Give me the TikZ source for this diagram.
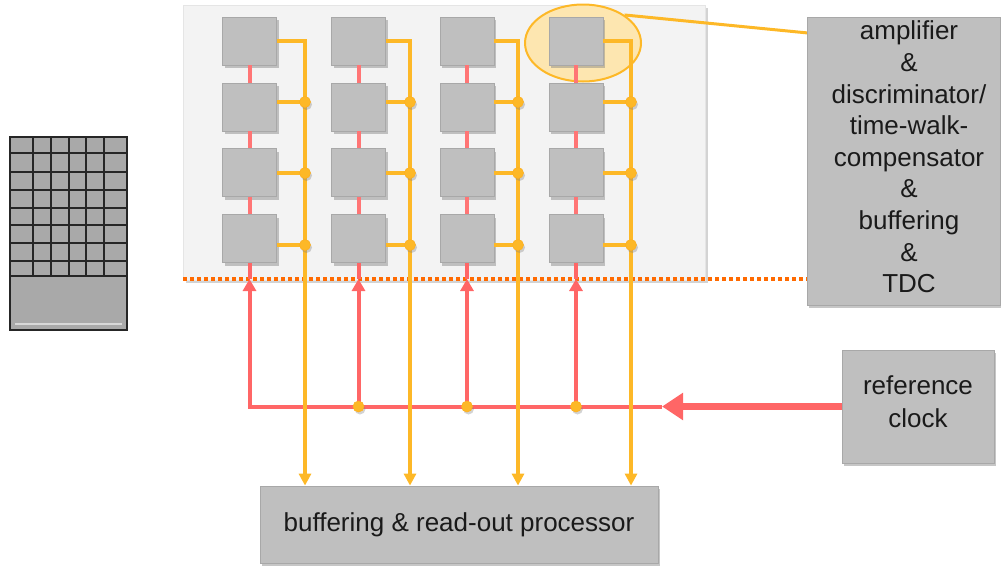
\documentclass[tikz,border=0pt]{standalone}
\usepackage{fontspec}
\setmainfont{Liberation Sans}
\usetikzlibrary{arrows.meta,shapes.geometric,shadows}
\definecolor{ylw}{HTML}{FDB827}
\definecolor{rd}{HTML}{FF6666}
\definecolor{org}{HTML}{FF6A00}
\definecolor{bx}{HTML}{BFBFBF}
\definecolor{panelc}{HTML}{F3F3F3}
\definecolor{ellc}{HTML}{FDE6B0}
\definecolor{chipc}{HTML}{A9A9A9}
\definecolor{chipl}{HTML}{262626}
\definecolor{txt}{HTML}{1A1A1A}
\tikzset{
  shad/.style={drop shadow={shadow xshift=2pt,shadow yshift=-3pt,opacity=0.45}},
  cell/.style={rectangle, fill=bx, draw=bx!88!black, line width=0.8pt, minimum width=54pt, minimum height=48pt, inner sep=0pt, shad},
  bigbox/.style={rectangle, fill=bx, draw=bx!88!black, line width=0.8pt, inner sep=0pt, shad, font=\fontsize{26}{32}\selectfont, text=txt, align=center},
  boxtext/.style={inner sep=0pt, text=txt, align=center},
  ybus/.style={draw=ylw, line width=3.5pt},
  rline/.style={draw=rd, line width=4pt},
  ytip/.style={-{Triangle[width=12pt,length=12pt]}},
  rtip/.style={-{Triangle[width=13pt,length=12pt]}},
  jdot/.style={circle, fill=ylw, draw=ylw!85!orange, line width=0.6pt, minimum size=11pt, inner sep=0pt, drop shadow={shadow xshift=1.5pt,shadow yshift=-2.5pt,opacity=0.35}}
}
\begin{document}
\begin{tikzpicture}[x=1pt,y=-1pt]
\useasboundingbox (0,0) rectangle (1001,568);
% left chip
\draw[fill=chipc, draw=chipl, line width=2pt] (10,137) rectangle (127,330);
\foreach \x in {32.7,51,68.7,86,104} \draw[chipl, line width=1.6pt] (\x,137) -- (\x,276);
\foreach \y in {153,172,190,208,225,243,261,276} \draw[chipl, line width=1.6pt] (10,\y) -- (127,\y);
\draw[white!55!chipc, line width=2pt] (15,324) -- (122,324);
% panel
\node[rectangle, fill=panelc, draw=black!10, line width=0.6pt, minimum width=522pt, minimum height=275pt, inner sep=0pt,
  drop shadow={shadow xshift=3pt,shadow yshift=-3pt,opacity=0.35}] (panel) at (444,142.5) {};
\coordinate (dl) at (183,279);
\coordinate (dr) at (807,279);
\draw[org, line width=3.5pt, dash pattern=on 3.5pt off 3.5pt] (dl) -- (dr);
% highlight ellipse
\node[ellipse, fill=ellc, draw=ylw, line width=2pt, minimum width=116pt, minimum height=77pt, inner sep=0pt] (ell) at (583,43) {};
\coordinate (lk) at (808,33);
\draw[ylw, line width=3pt] (ell.34) -- (lk);
% boxes
\node[bigbox, minimum width=193pt, minimum height=288pt] (amp) at (903.5,161) {};
\node[boxtext, font=\fontsize{26}{31.6}\selectfont] (ampt) at (909,157) {amplifier\\\&\\discriminator/\\time-walk-\\compensator\\\&\\buffering\\\&\\TDC};
\node[bigbox, minimum width=152pt, minimum height=113pt] (clk) at (918,406.5) {};
\node[boxtext, font=\fontsize{26}{33}\selectfont] (clkt) at (918,401.5) {reference\\clock};
\node[bigbox, minimum width=398pt, minimum height=77pt] (proc) at (459,524.5) {buffering \& read-out processor};
% cells
\foreach \c/\x in {1/249.5,2/358.5,3/467,4/576}{
  \foreach \r/\y in {1/41,2/107,3/172.5,4/238.5}{
    \node[cell] (b\r\c) at (\x,\y) {};
  }
}
% red clock lines
\foreach \c in {1,2,3,4}{
  \draw[rline, draw=rd!90!white] (b1\c.south) -- (b2\c.north);
  \draw[rline, draw=rd!90!white] (b2\c.south) -- (b3\c.north);
  \draw[rline, draw=rd!90!white] (b3\c.south) -- (b4\c.north);
  \coordinate (a\c) at (b4\c.south |- dl);
  \coordinate (c\c) at (b4\c.south |- clk.west);
  \draw[rline] (b4\c.south) -- (a\c);
}
\coordinate (h) at (662,406.5);
\draw[rline, rtip] (h) -| (a1);
\foreach \c in {2,3,4}{
  \draw[rline, rtip] (c\c) -- (a\c);
}
\draw[draw=rd, line width=7pt, -{Triangle[width=26pt,length=21pt]}] (clk.west) -- (h);
\foreach \c in {2,3,4}{
  \node[jdot] (rd\c) at (c\c) {};
}
% yellow read-out buses
\foreach \c/\bx in {1/305,2/410,3/518,4/631}{
  \coordinate (x\c) at (\bx,0);
  \coordinate (e\c) at (x\c |- proc.north);
  \draw[ybus, ytip] (b1\c.east) -| (e\c);
  \foreach \r/\dy in {2/102,3/173,4/245}{
    \coordinate (j\r\c) at (\bx,\dy);
    \draw[ybus] (b\r\c.east |- j\r\c) -- (j\r\c);
  }
  \foreach \r in {2,3,4}{
    \node[jdot] (jd\r\c) at (j\r\c) {};
  }
}
\end{tikzpicture}
\end{document}
